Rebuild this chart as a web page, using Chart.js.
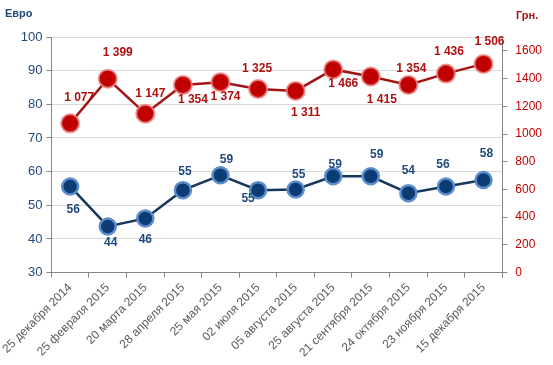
<!DOCTYPE html>
<html>
<head>
<meta charset="utf-8">
<script src="https://cdn.jsdelivr.net/npm/chart.js@4.4.1/dist/chart.umd.min.js"></script>
<style>
  html, body { margin: 0; padding: 0; background: #fff; }
  #wrap { width: 553px; height: 365px; position: relative; }
</style>
</head>
<body>
<div id="wrap"><canvas id="chart"></canvas></div>
<script>
const dates = ['25 декабря 2014', '25 февраля 2015', '20 марта 2015', '28 апреля 2015', '25 мая 2015',
  '02 июля 2015', '05 августа 2015', '25 августа 2015', '21 сентября 2015', '24 октября 2015',
  '23 ноября 2015', '15 декабря 2015'];
const euro = [55.6, 43.7, 46.1, 54.5, 58.9, 54.5, 54.7, 58.6, 58.6, 53.6, 55.6, 57.5];
const uah = [1077, 1399, 1147, 1354, 1374, 1325, 1311, 1466, 1415, 1354, 1436, 1506];

// where each value label sits relative to its point [dx, dy]
const euroLabelPos = [[3, 23], [3, 16], [0, 21], [2, -18], [6, -16], [-10, 9], [3, -15], [2, -12], [6, -22], [0, -22], [-3, -22], [3, -26]];
const uahLabelPos = [[9, -26], [10, -26], [5, -20], [10, 15], [5, 15], [-1, -20], [10, 22], [10, 14], [11, 23], [3, -16], [3, -22], [6, -22]];

const blue = '#1F497D';
const red = '#B01010';
const font = '"Liberation Sans", Arial, sans-serif';

const fmtUah = v => String(v).replace(/\B(?=(\d{3})+(?!\d))/g, ' ');

const valueLabels = {
  id: 'valueLabels',
  afterDatasetsDraw(chart) {
    const ctx = chart.ctx;
    ctx.save();
    ctx.font = 'bold 12px ' + font;
    ctx.textAlign = 'center';
    ctx.textBaseline = 'middle';
    chart.data.datasets.forEach((ds, di) => {
      const meta = chart.getDatasetMeta(di);
      const pos = di === 0 ? uahLabelPos : euroLabelPos;
      ctx.fillStyle = di === 0 ? red : blue;
      meta.data.forEach((pt, i) => {
        const txt = di === 0 ? fmtUah(ds.data[i]) : String(Math.round(ds.data[i]));
        ctx.fillText(txt, pt.x + pos[i][0], pt.y + pos[i][1]);
      });
    });
    // axis captions
    ctx.textAlign = 'left';
    ctx.font = 'bold 11px ' + font;
    ctx.fillStyle = blue;
    ctx.fillText('Евро', 5, 14);
    ctx.fillStyle = red;
    ctx.fillText('Грн.', 516, 16);
    ctx.restore();
  }
};

new Chart(document.getElementById('chart'), {
  type: 'line',
  data: {
    labels: dates,
    datasets: [{
      label: 'Грн.',
      data: uah,
      yAxisID: 'y2',
      borderColor: '#A31515',
      borderWidth: 2.5,
      backgroundColor: '#C00000',
      pointBackgroundColor: '#C00000',
      pointBorderColor: 'rgba(235,130,130,0.85)',
      pointBorderWidth: 2,
      pointRadius: 9,
      tension: 0
    }, {
      label: 'Евро',
      data: euro,
      yAxisID: 'y',
      borderColor: '#17375E',
      borderWidth: 2.5,
      backgroundColor: '#0B3C73',
      pointBackgroundColor: '#0B3C73',
      pointBorderColor: '#5B8CCB',
      pointBorderWidth: 2.5,
      pointRadius: 8,
      tension: 0
    }]
  },
  options: {
    responsive: true,
    maintainAspectRatio: false,
    animation: false,
    layout: { padding: { top: 37, right: 3, left: 8, bottom: 2 } },
    plugins: { legend: { display: false }, tooltip: { enabled: false } },
    scales: {
      x: {
        offset: true,
        grid: { offset: true, drawOnChartArea: false, tickLength: 5, tickColor: '#868686' },
        border: { color: '#868686' },
        ticks: {
          color: '#595959', minRotation: 45, maxRotation: 45, autoSkip: false,
          font: { family: font, size: 12 }
        }
      },
      y: {
        position: 'left',
        min: 30, max: 100,
        grid: { color: '#D9D9D9', tickColor: '#868686', tickLength: 5 },
        border: { color: '#868686' },
        ticks: {
          stepSize: 10, color: blue, padding: 4,
          font: { family: font, size: 13 }
        }
      },
      y2: {
        position: 'right',
        min: 0, max: 1700,
        grid: { drawOnChartArea: false, tickColor: '#868686', tickLength: 5 },
        border: { color: '#868686' },
        afterBuildTicks: s => { s.ticks = s.ticks.filter(t => t.value <= 1600); },
        ticks: {
          stepSize: 200, color: '#C00000', padding: 8,
          callback: v => String(v),
          font: { family: font, size: 12 }
        }
      }
    }
  },
  plugins: [valueLabels]
});
</script>
</body>
</html>
